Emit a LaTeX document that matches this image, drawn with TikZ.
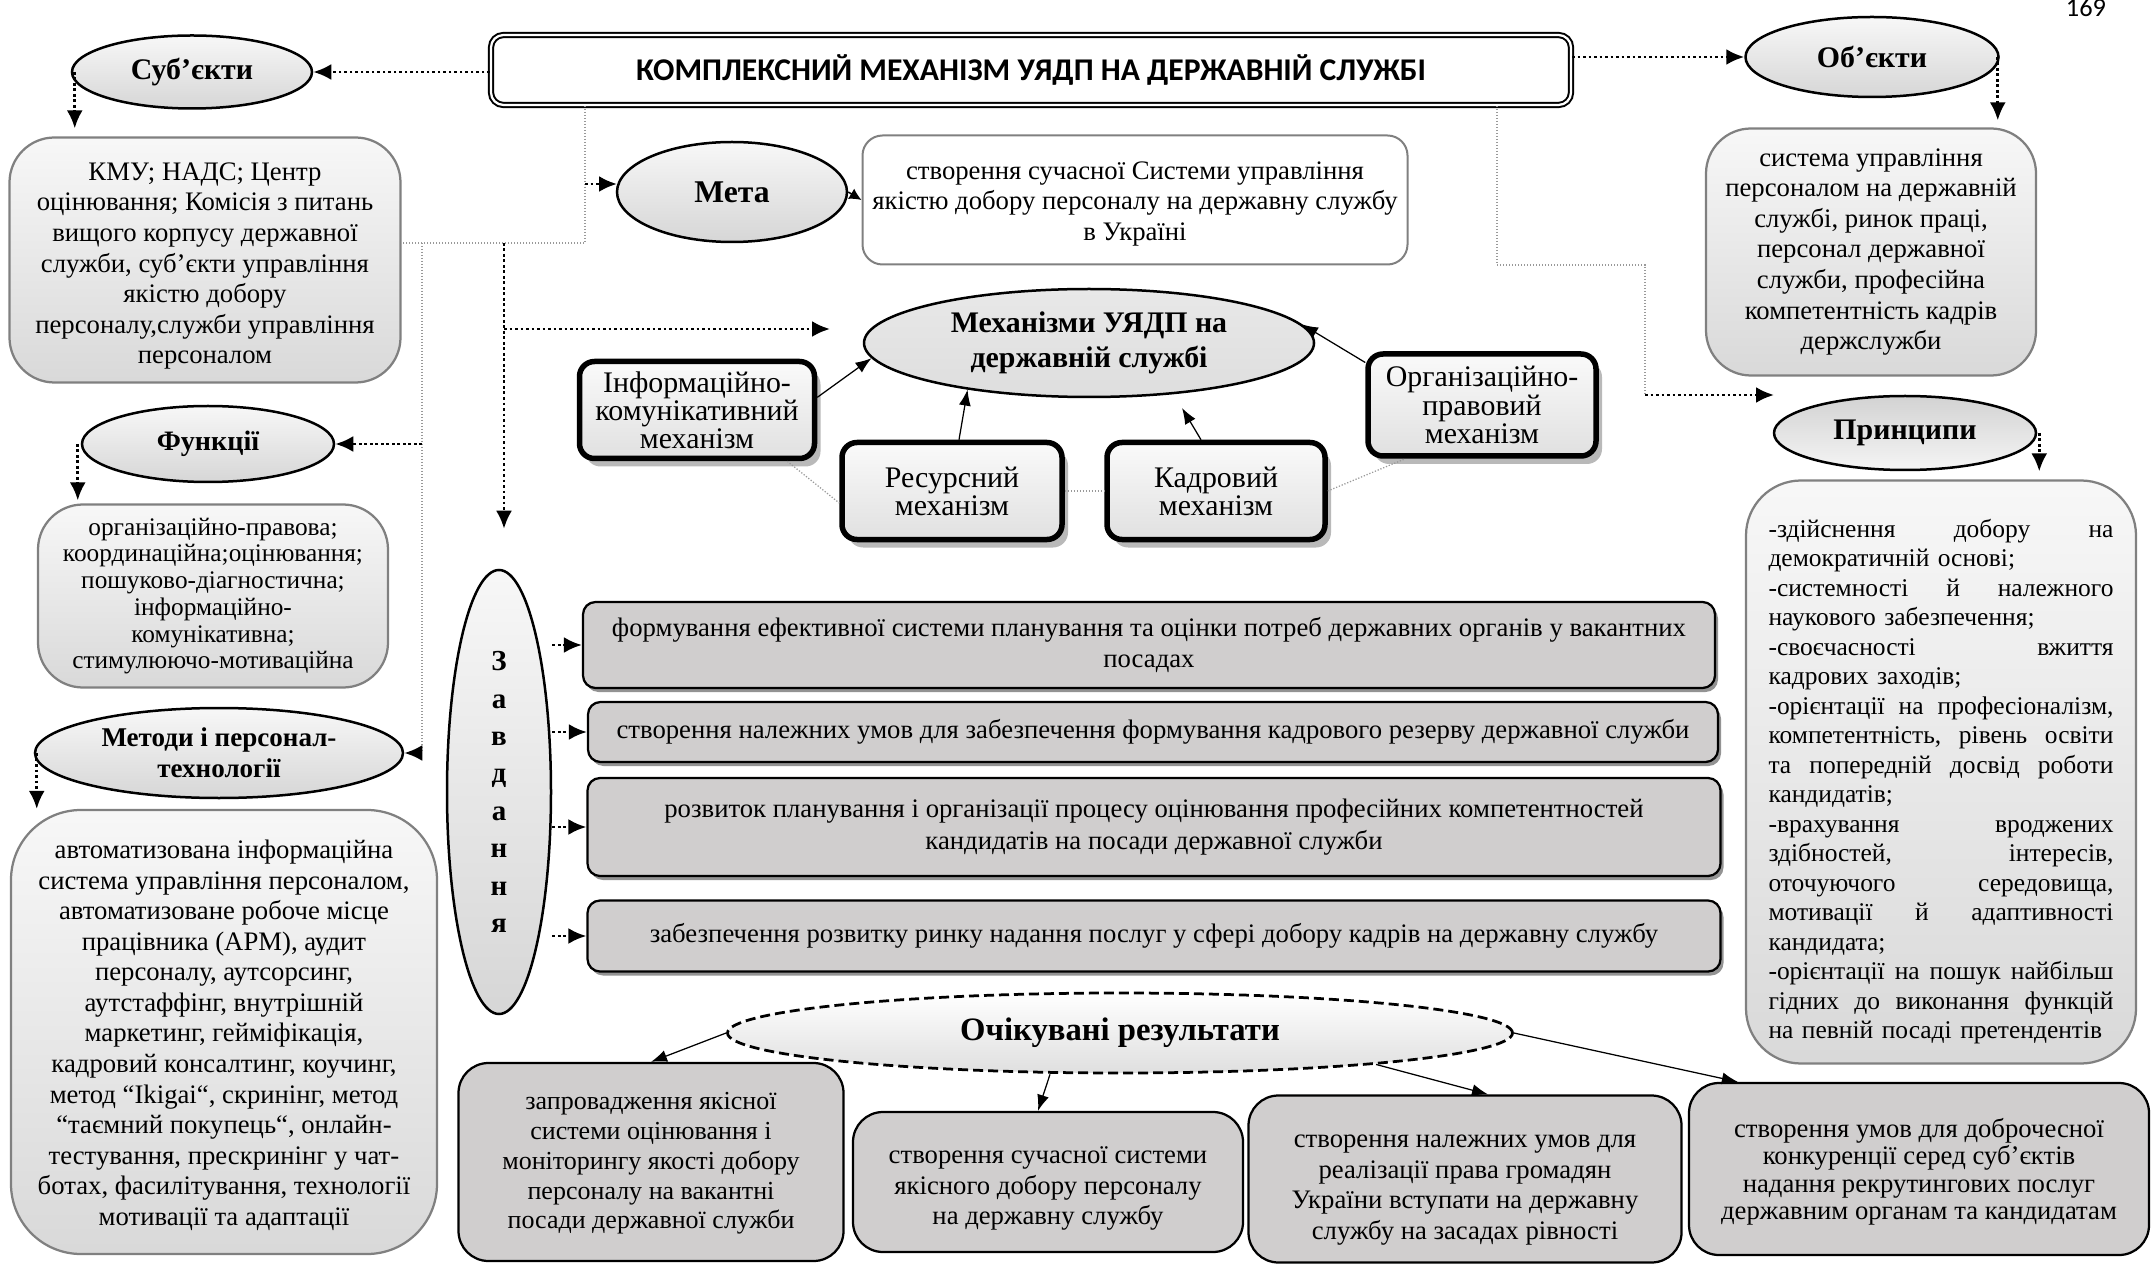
\documentclass[tikz,border=0pt]{standalone}
\usepackage{fontspec}
\setmainfont{Liberation Serif}
\newfontfamily\titlefont{Carlito}
\usetikzlibrary{positioning,arrows.meta,shapes.geometric,shadows}

\definecolor{boxgray}{RGB}{208,206,206}
\definecolor{softedge}{RGB}{128,128,128}
\newcommand{\boxtext}{\fontsize{15.2}{17.4}\selectfont}
\newcommand{\toppad}[1]{\rule{0pt}{#1}}

\tikzset{
  oval/.style={ellipse, draw, line width=0.5mm, top color=gray!6, bottom color=gray!32,
    inner sep=0pt, align=center, font=\bfseries\fontsize{17}{20}\selectfont},
  softbox/.style={rectangle, rounded corners=9mm, draw=softedge, line width=0.45mm,
    top color=gray!6, bottom color=gray!30, inner sep=0pt, align=center, font=\boxtext},
  taskbox/.style={rectangle, rounded corners=2.5mm, draw, line width=0.45mm, fill=boxgray,
    inner sep=0pt, align=center, font=\boxtext,
    drop shadow={shadow xshift=0.6mm, shadow yshift=-0.8mm, fill=gray!85, opacity=1}},
  mechbox/.style={rectangle, rounded corners=3mm, draw, line width=1.1mm,
    top color=gray!4, bottom color=gray!24, inner sep=0pt, align=center,
    font=\fontsize{17}{16}\selectfont,
    drop shadow={shadow xshift=1.2mm, shadow yshift=-1.6mm, fill=gray!55, opacity=1}},
  resbox/.style={rectangle, rounded corners=6mm, draw, line width=0.45mm, fill=boxgray,
    inner sep=0pt, align=center, font=\boxtext},
  dotline/.style={draw=gray!80, line width=0.25mm, dash pattern=on 0.25mm off 0.35mm},
  dotarrow/.style={line width=0.55mm, dash pattern=on 0.55mm off 0.55mm,
    -{Latex[length=3.6mm,width=3.2mm]}},
  arr/.style={line width=0.25mm, -{Latex[length=3.2mm,width=2.4mm]}}
}

\begin{document}
\begin{tikzpicture}[x=0.2mm, y=-0.2mm]
  \useasboundingbox (0,0) rectangle (2156,1265);

  % top row
  \node[draw, line width=0.4mm, double=white, double distance=0.45mm, rounded corners=2.5mm,
    minimum width=216mm, minimum height=14mm,
    font=\titlefont\bfseries\fontsize{18}{21}\selectfont] (title) at (1031,70)
    {КОМПЛЕКСНИЙ МЕХАНІЗМ УЯДП НА ДЕРЖАВНІЙ СЛУЖБІ};
  \node[anchor=base, font=\titlefont\fontsize{15}{17}\selectfont] (page) at (2086,17) {169};

  \node[oval, minimum width=48mm, minimum height=14.6mm] (subj) at (192,72) {Суб’єкти};
  \node[softbox, minimum width=78.2mm, minimum height=49mm] (subjbox) at (205,260)
    {\toppad{6mm}КМУ; НАДС; Центр\\ оцінювання; Комісія з питань\\ вищого корпусу державної\\
     служби, суб’єкти управління\\ якістю добору\\ персоналу,служби управління\\ персоналом};

  \node[oval, minimum width=50.6mm, minimum height=16mm] (obj) at (1872,57) {Об’єкти};
  \node[softbox, minimum width=66mm, minimum height=49.4mm] (objbox) at (1871,252)
    {система управління\\ персоналом на державній\\ службі, ринок праці,\\ персонал державної\\
     служби, професійна\\ компетентність кадрів\\ держслужби};

  % goal
  \node[oval, minimum width=46mm, minimum height=20mm,
    font=\bfseries\fontsize{18}{21}\selectfont] (meta) at (732,192) {Мета};
  \node[rectangle, rounded corners=4mm, draw=softedge, line width=0.4mm, fill=white,
    minimum width=109mm, minimum height=25.8mm, align=center, font=\boxtext] (metabox) at (1135,200)
    {\toppad{5mm}створення сучасної Системи управління\\ якістю добору персоналу на державну службу\\ в Україні};

  % mechanisms
  \node[oval, top color=gray!18, bottom color=gray!26, minimum width=90mm, minimum height=21.6mm]
    (mech) at (1089,343) {Механізми УЯДП на\\ державній службі};
  \node[mechbox, minimum width=47mm, minimum height=19.4mm] (info) at (697,410)
    {Інформаційно-\\ комунікативний\\ механізм};
  \node[mechbox, minimum width=44mm, minimum height=19.4mm] (res) at (952,491)
    {Ресурсний\\ механізм};
  \node[mechbox, minimum width=43.6mm, minimum height=19.4mm] (kadr) at (1216,491)
    {Кадровий\\ механізм};
  \node[mechbox, minimum width=45.6mm, minimum height=20.4mm] (org) at (1482,405)
    {Організаційно-\\ правовий\\ механізм};

  % left column
  \node[oval, font=\bfseries\fontsize{16}{19}\selectfont, minimum width=50.4mm, minimum height=15.2mm]
    (func) at (208,444) {Функції};
  \node[softbox, minimum width=70mm, minimum height=36.6mm,
    font=\fontsize{14.4}{15.2}\selectfont] (funcbox) at (213,596)
    {організаційно-правова;\\ координаційна;оцінювання;\\ пошуково-діагностична;\\
     інформаційно-\\ комунікативна;\\ стимулюючо-мотиваційна};
  \node[oval, minimum width=73.6mm, minimum height=18mm,
    font=\bfseries\fontsize{15.4}{17.4}\selectfont] (meth) at (219,753)
    {Методи і персонал-\\ технології};
  \node[softbox, rounded corners=14mm, minimum width=85.2mm, minimum height=88.8mm] (methbox) at (224,1032)
    {\toppad{5mm}автоматизована інформаційна\\ система управління персоналом,\\ автоматизоване робоче місце\\
     працівника (АРМ), аудит\\ персоналу, аутсорсинг,\\ аутстаффінг, внутрішній\\
     маркетинг, гейміфікація,\\ кадровий консалтинг, коучинг,\\ метод “Ikigai“, скринінг, метод\\
     “таємний покупець“, онлайн-\\ тестування, прескринінг у чат-\\ ботах, фасилітування, технології\\
     мотивації та адаптації};

  % principles
  \node[oval, top color=gray!35, bottom color=gray!8, minimum width=52.4mm, minimum height=14.8mm]
    (princ) at (1905,433) {Принципи};
  \node[softbox, rounded corners=11mm, minimum width=78mm, minimum height=116.6mm, align=left,
    font=\fontsize{14.5}{16.8}\selectfont, text width=69mm] (princbox) at (1941,772)
    {\toppad{7.5mm}-здійснення\hfill добору\hfill на\\ демократичній основі;\\
     -системності\hfill й\hfill належного\\ наукового забезпечення;\\
     -своєчасності\hfill вжиття\\ кадрових заходів;\\
     -орієнтації\hfill на\hfill професіоналізм,\\ компетентність,\hfill рівень\hfill освіти\\
     та\hfill попередній\hfill досвід\hfill роботи\\ кандидатів;\\
     -врахування\hfill вроджених\\ здібностей,\hfill інтересів,\\
     оточуючого\hfill середовища,\\ мотивації\hfill й\hfill адаптивності\\ кандидата;\\
     -орієнтації\hfill на\hfill пошук\hfill найбільш\\ гідних\hfill до\hfill виконання\hfill функцій\\
     на певній посаді претендентів};

  % tasks
  \node[oval, minimum width=20.8mm, minimum height=88.8mm,
    font=\bfseries\fontsize{16.5}{21.3}\selectfont] (zavd) at (499,792) {З\\а\\в\\д\\а\\н\\н\\я};
  \node[taskbox, minimum width=226.4mm, minimum height=17.2mm] (task1) at (1149,645)
    {формування ефективної системи планування та оцінки потреб державних органів у вакантних\\ посадах};
  \node[taskbox, minimum width=226mm, minimum height=12mm] (task2) at (1153,732)
    {створення належних умов для забезпечення формування кадрового резерву державної служби};
  \node[taskbox, minimum width=226.6mm, minimum height=19.6mm, font=\fontsize{15.2}{18.6}\selectfont]
    (task3) at (1154,827)
    {розвиток планування і організації процесу оцінювання професійних компетентностей\\
     кандидатів на посади державної служби};
  \node[taskbox, minimum width=226.6mm, minimum height=14.2mm] (task4) at (1154,936)
    {забезпечення розвитку ринку надання послуг у сфері добору кадрів на державну службу};

  % results
  \node[oval, dash pattern=on 2mm off 1mm, line width=0.55mm, top color=white, bottom color=gray!25,
    minimum width=157mm, minimum height=16mm, font=\bfseries\fontsize{18.6}{21}\selectfont]
    (expect) at (1120,1033) {Очікувані результати};
  \node[resbox, font=\fontsize{14.8}{17}\selectfont, minimum width=77mm, minimum height=39.6mm]
    (r1) at (651,1162)
    {\toppad{4mm}запровадження якісної\\ системи оцінювання і\\ моніторингу якості добору\\
     персоналу на вакантні\\ посади державної служби};
  \node[resbox, minimum width=78mm, minimum height=28mm] (r2) at (1048,1182)
    {\toppad{6mm}створення сучасної системи\\ якісного добору персоналу\\ на державну службу};
  \node[resbox, minimum width=86.6mm, minimum height=33.4mm] (r3) at (1465,1179)
    {\toppad{7mm}створення належних умов для\\ реалізації права громадян\\ України вступати на державну\\
     службу на засадах рівності};
  \node[resbox, font=\fontsize{15.2}{15.6}\selectfont, minimum width=92mm, minimum height=34.4mm]
    (r4) at (1919,1169)
    {\toppad{5mm}створення умов для доброчесної\\ конкуренції серед суб’єктів\\ надання рекрутингових послуг\\
     державним органам та кандидатам};

  % free ends
  \coordinate (tl) at (585,243);
  \coordinate (vl) at (422,243);
  \coordinate (vz) at (504,243);
  \coordinate (mk) at (830,329);
  \coordinate (tr) at (1497,265);
  \coordinate (tr2) at (1645,265);
  \coordinate (pk) at (1774,395);
  \coordinate (kk) at (1182,408);
  \coordinate (mt) at (617,184);

  % dotted links
  \draw[dotarrow] (title.west |- subj) -- (subj.east);
  \draw[dotarrow] (title.east |- obj) -- (obj.west);
  \draw[dotarrow, shorten >=1.6mm] ([xshift=0.8mm]subj.west) -- ([xshift=0.8mm]subj.west |- subjbox.north);
  \draw[dotarrow, shorten >=1.4mm] ([xshift=-0.4mm]obj.east) -- ([xshift=-0.4mm]obj.east |- objbox.north);
  \draw[dotarrow, shorten >=0.6mm] ([xshift=-0.6mm]func.west) -- ([xshift=-0.6mm]func.west |- funcbox.north);
  \draw[dotarrow] ([xshift=0.6mm]meth.west) -- ([xshift=0.6mm]meth.west |- methbox.north);
  \draw[dotarrow, shorten >=1.6mm] ([xshift=0.4mm]princ.east) -- ([xshift=0.4mm]princ.east |- princbox.north);

  \draw[dotline] (title.south -| tl) -- (tl) -- (tl -| subjbox.east);
  \draw[dotarrow] (tl |- mt) -- (mt);
  \draw[dotline] (vl) -- (vl |- meth);
  \draw[dotarrow] (vl |- func) -- (func.east);
  \draw[dotarrow] (vl |- meth) -- (meth.east);
  \draw[dotarrow] (vz) -- ([yshift=8mm]vz |- zavd.north);
  \draw[dotarrow] (vz |- mk) -- (mk);

  \draw[dotline] (title.south -| tr) -- (tr) -- (tr2) -- (tr2 |- pk);
  \draw[dotarrow] (tr2 |- pk) -- (pk);

  \draw[dotarrow] (zavd.east |- task1) -- (task1.west);
  \draw[dotarrow] (zavd.east |- task2) -- (task2.west);
  \draw[dotarrow] (zavd.east |- task3) -- (task3.west);
  \draw[dotarrow] (zavd.east |- task4) -- (task4.west);

  % mechanisms
  \draw[-{Latex[length=2.4mm,width=2.4mm]}, line width=0.3mm] (meta.east) -- (metabox.west);
  \draw[arr] (info.6) -- (mech.184);
  \draw[arr] ([xshift=1.4mm]res.north) -- (mech.201);
  \draw[arr] ([xshift=-3mm]kadr.north) -- (kk);
  \draw[arr] (org.160) -- (mech.5);
  \draw[dotline] ([xshift=-6mm]info.south east) -- ([yshift=-2.4mm]res.west);
  \draw[dotline] (res.east) -- (kadr.east -| kadr.west);
  \draw[dotline] (kadr.east) -- ([xshift=8mm]org.south west);

  % results
  \draw[arr] (expect.west) -- (r1.north);
  \draw[arr] ([xshift=-14mm]expect.south) -- ([xshift=-2mm]r2.north);
  \draw[arr] (expect.353) -- ([xshift=4.6mm]r3.north);
  \draw[arr] (expect.east) -- ([xshift=10mm]r4.north west);
\end{tikzpicture}
\end{document}
